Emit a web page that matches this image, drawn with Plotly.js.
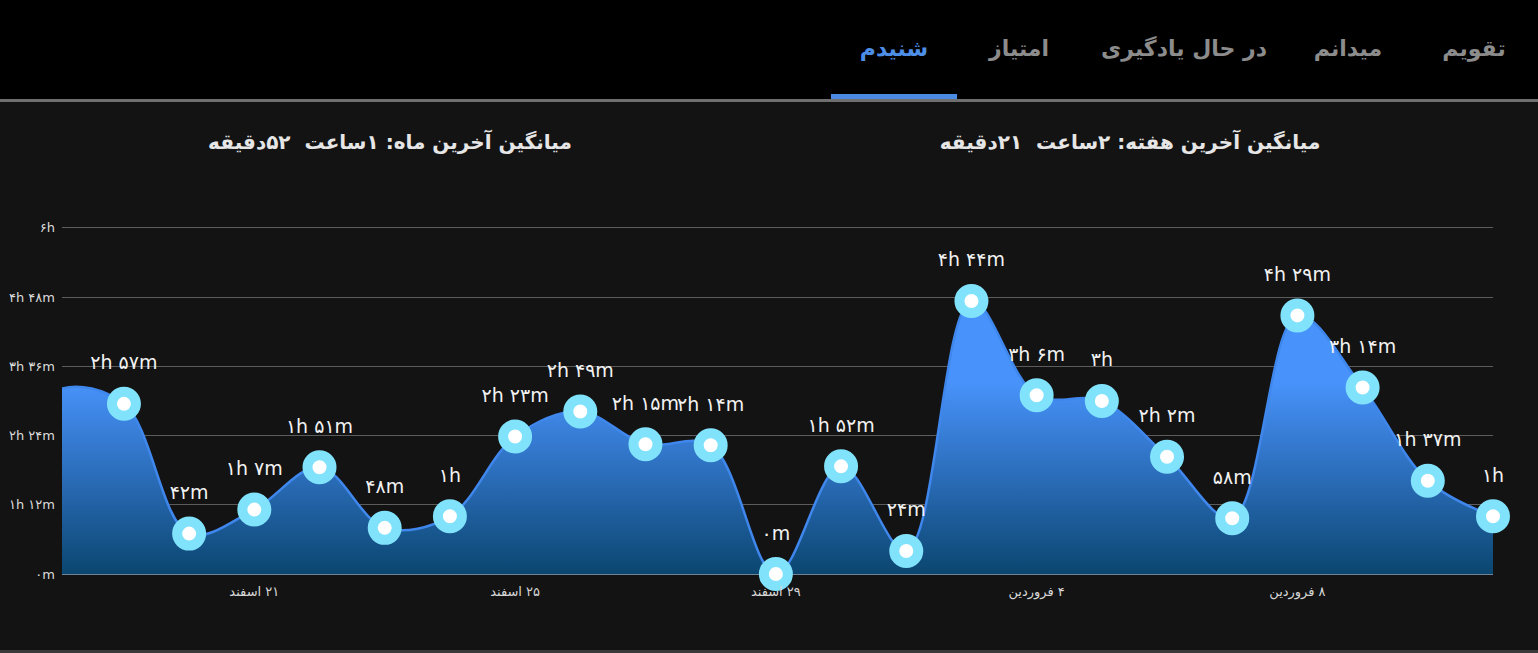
<!DOCTYPE html>
<html><head><meta charset="utf-8">
<script src="https://cdn.plot.ly/plotly-3.0.1.min.js"></script>
<style>
html,body{margin:0;padding:0;background:#131313;width:1538px;height:653px;overflow:hidden;}
#chart{position:absolute;left:0;top:0;width:1538px;height:653px;}
#header{position:absolute;left:0;top:0;width:1538px;height:99px;background:#000;}
#hline{position:absolute;left:0;top:99px;width:1538px;height:3px;background:#6f6f6f;}
#uline{position:absolute;left:831px;top:94px;width:126px;height:5px;background:#4a8ae2;}
#bline{position:absolute;left:0;top:650px;width:1538px;height:3px;background:#3a3a3a;}
.tab{position:absolute;top:36px;transform:translateX(-50%);font-family:"DejaVu Sans",sans-serif;font-weight:bold;font-size:22px;color:#8c8c8c;white-space:nowrap;direction:rtl;}
.tab.on{color:#4d8fe6;}
.ttl{position:absolute;top:130px;transform:translateX(-50%);font-family:"DejaVu Sans",sans-serif;font-weight:bold;font-size:20px;color:#e6e6e6;white-space:pre;direction:rtl;}
</style></head>
<body>
<div id="chart"></div>
<div id="header"></div>
<div id="hline"></div>
<div id="uline"></div>
<div id="bline"></div>
<div id="tabs"></div>
<div id="titles"></div>
<script>
// Tabs and titles
const tabNames = ['تقویم', 'میدانم', 'در حال یادگیری', 'امتیاز', 'شنیدم'];
const tabCenters = [1474, 1348, 1184, 1019, 894];
const activeTab = 'شنیدم';
const titleTexts = ['میانگین آخرین ماه: ۱ساعت  ۵۲دقیقه', 'میانگین آخرین هفته: ۲ساعت  ۲۱دقیقه'];
const titleCenters = [390, 1130];

// Chart data: daily listening time in minutes (first two days are scrolled off the left edge)
const days = ['۱۷ اسفند','۱۸ اسفند','۱۹ اسفند','۲۰ اسفند','۲۱ اسفند','۲۲ اسفند','۲۳ اسفند','۲۴ اسفند','۲۵ اسفند','۲۶ اسفند','۲۷ اسفند','۲۸ اسفند','۲۹ اسفند','۱ فروردین','۲ فروردین','۳ فروردین','۴ فروردین','۵ فروردین','۶ فروردین','۷ فروردین','۸ فروردین','۹ فروردین','۱۰ فروردین','۱۱ فروردین'];
const minutes = [110, 192, 177, 42, 67, 111, 48, 60, 143, 169, 135, 134, 0, 112, 24, 284, 186, 180, 122, 58, 269, 194, 97, 60];
const xTickDays = ['۲۱ اسفند','۲۵ اسفند','۲۹ اسفند','۴ فروردین','۸ فروردین'];
const yTickMinutes = [0, 72, 144, 216, 288, 360];

const tabsDiv = document.getElementById('tabs');
tabNames.forEach((t, i) => {
  const s = document.createElement('span');
  s.className = 'tab' + (t === activeTab ? ' on' : '');
  s.style.left = tabCenters[i] + 'px';
  s.textContent = t;
  tabsDiv.appendChild(s);
});
const titlesDiv = document.getElementById('titles');
titleTexts.forEach((t, i) => {
  const s = document.createElement('span');
  s.className = 'ttl';
  s.style.left = titleCenters[i] + 'px';
  s.textContent = t;
  titlesDiv.appendChild(s);
});

const fa = n => String(n).replace(/[0-9]/g, d => '۰۱۲۳۴۵۶۷۸۹'[d]);
function fmt(m) {
  const h = Math.floor(m / 60), mm = m % 60;
  if (h === 0) return fa(mm) + 'm';
  if (mm === 0) return fa(h) + 'h';
  return fa(h) + 'h ' + fa(mm) + 'm';
}

const shownDays = days.slice(2), shownMinutes = minutes.slice(2);

const area = {
  x: days, y: minutes, type: 'scatter', mode: 'lines',
  line: {color: '#3f87ec', width: 2.5, shape: 'spline', smoothing: 1},
  fill: 'tozeroy',
  fillgradient: {type: 'vertical', start: 0, stop: 200,
    colorscale: [[0, '#0b4670'], [0.5, '#2a6cb8'], [1, '#4893fb']]},
  hoverinfo: 'skip', showlegend: false
};
const pts = {
  x: shownDays, y: shownMinutes, type: 'scatter', mode: 'markers',
  marker: {size: 24, color: '#ffffff', line: {color: '#80e2fb', width: 10}},
  cliponaxis: false, showlegend: false
};
const labels = {
  x: shownDays, y: shownMinutes, type: 'scatter', mode: 'markers+text',
  text: shownMinutes.map(fmt), textposition: 'top center',
  textfont: {family: 'DejaVu Sans, sans-serif', size: 19, color: '#f2f2f2'},
  marker: {size: 46, color: 'rgba(0,0,0,0)', line: {color: 'rgba(0,0,0,0)', width: 10}},
  cliponaxis: false, showlegend: false
};

const layout = {
  width: 1538, height: 653,
  margin: {l: 62, r: 45, t: 226, b: 79},
  paper_bgcolor: '#131313', plot_bgcolor: '#131313',
  showlegend: false,
  xaxis: {
    type: 'category', range: [1.05, 23],
    tickmode: 'array', tickvals: xTickDays, ticktext: xTickDays.map(t => '\u200F' + t),
    showgrid: false, zeroline: false, showline: false, ticks: '',
    tickfont: {family: 'DejaVu Sans, sans-serif', size: 13, color: '#d8d8d8'},
    ticklabelstandoff: 8, fixedrange: true
  },
  yaxis: {
    range: [0, 362], tickmode: 'array', tickvals: yTickMinutes, ticktext: yTickMinutes.map(fmt),
    showgrid: true, gridcolor: '#5c5c5c', gridwidth: 1,
    zeroline: true, zerolinecolor: '#6f8597', zerolinewidth: 1.5,
    ticks: '', tickfont: {family: 'DejaVu Sans, sans-serif', size: 13, color: '#dcdcdc'},
    ticklabelstandoff: 6, fixedrange: true
  }
};
Plotly.newPlot('chart', [area, pts, labels], layout, {displayModeBar: false, staticPlot: true});
</script>
</body></html>
